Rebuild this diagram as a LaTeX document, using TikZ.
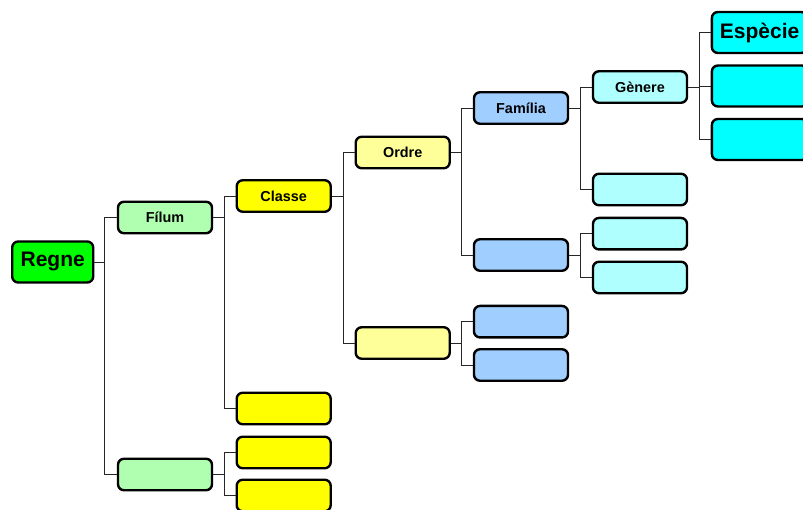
\documentclass[tikz,border=0pt]{standalone}
\usepackage{fontspec}
\setmainfont{Liberation Sans}
\definecolor{cRegne}{RGB}{0,255,0}
\definecolor{cFilum}{RGB}{176,255,176}
\definecolor{cClasse}{RGB}{255,255,0}
\definecolor{cOrdre}{RGB}{255,255,153}
\definecolor{cFamilia}{RGB}{160,207,255}
\definecolor{cGenere}{RGB}{176,255,255}
\definecolor{cEspecie}{RGB}{0,255,255}
\tikzset{
  taxbox/.style={draw=black, line width=2.4pt, rounded corners=6pt,
    minimum width=94pt, minimum height=31.5pt, inner sep=0pt,
    font=\bfseries\fontsize{14.4}{16}\selectfont},
  bigbox/.style={taxbox, minimum height=41pt, font=\bfseries\fontsize{21}{24}\selectfont},
  link/.style={draw=black!85, line width=0.9pt},
}
\begin{document}
\begin{tikzpicture}[x=1pt,y=-1pt]
\useasboundingbox (0,0) rectangle (803,510);
\begin{scope}
\clip (0,0) rectangle (803,510);
% level 1
\node[bigbox, fill=cRegne, minimum width=81pt] (regne) at (52.7,262) {Regne};
% level 2
\node[taxbox, fill=cFilum] (filA) at (165,217.5) {Fílum};
\node[taxbox, fill=cFilum] (filB) at (165,474.5) {};
% level 3
\node[taxbox, fill=cClasse] (claA) at (283.7,196) {Classe};
\node[taxbox, fill=cClasse] (claB) at (283.7,408.5) {};
\node[taxbox, fill=cClasse] (claC) at (283.7,452.5) {};
\node[taxbox, fill=cClasse] (claD) at (283.7,495.5) {};
% level 4
\node[taxbox, fill=cOrdre] (ordA) at (402.7,152.5) {Ordre};
\node[taxbox, fill=cOrdre] (ordB) at (402.7,343) {};
% level 5
\node[taxbox, fill=cFamilia] (famA) at (521,108) {Família};
\node[taxbox, fill=cFamilia] (famB) at (521,255) {};
\node[taxbox, fill=cFamilia] (famC) at (521,321.7) {};
\node[taxbox, fill=cFamilia] (famD) at (521,365) {};
% level 6
\node[taxbox, fill=cGenere] (genA) at (640,87) {Gènere};
\node[taxbox, fill=cGenere] (genB) at (640,189.5) {};
\node[taxbox, fill=cGenere] (genC) at (640,233.7) {};
\node[taxbox, fill=cGenere] (genD) at (640,277.5) {};
% level 7
\node[bigbox, fill=cEspecie, anchor=west] (espA) at (710.7,32.5) {\hspace*{8pt}Espècie\hspace*{8pt}};
\node[bigbox, fill=cEspecie, anchor=west] (espB) at (710.7,86) {\hspace*{96pt}};
\node[bigbox, fill=cEspecie, anchor=west] (espC) at (710.7,139.5) {\hspace*{96pt}};
\end{scope}
% elbow connectors
\foreach \p/\c/\d in {regne/filA/10.5, regne/filB/10.5,
  filA/claA/11.5, filA/claB/11.5, filB/claC/11.5, filB/claD/11.5,
  claA/ordA/11.5, claA/ordB/11.5,
  ordA/famA/11, ordA/famB/11, ordB/famC/11, ordB/famD/11,
  famA/genA/11, famA/genB/11, famB/genC/11, famB/genD/11,
  genA/espA/11, genA/espB/11, genA/espC/11}
  \draw[link] (\p.east) -- ++(\d,0) |- (\c.west);
\end{tikzpicture}
\end{document}
